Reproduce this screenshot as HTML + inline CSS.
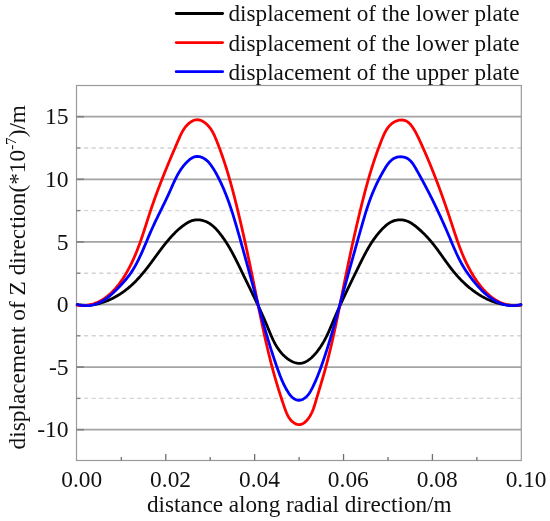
<!DOCTYPE html>
<html><head><meta charset="utf-8"><style>
html,body{margin:0;padding:0;background:#fff;}
svg{display:block;will-change:transform;}
.t{font-family:"Liberation Serif",serif;font-size:23px;fill:#111;}
.sup{font-size:15px;}
</style></head><body>
<svg width="550" height="521" viewBox="0 0 550 521">
<rect width="550" height="521" fill="#fff"/>
<line x1="77" x2="521" y1="116.70" y2="116.70" stroke="#a4a4a4" stroke-width="1.8"/>
<line x1="77" x2="521" y1="179.30" y2="179.30" stroke="#a4a4a4" stroke-width="1.8"/>
<line x1="77" x2="521" y1="241.90" y2="241.90" stroke="#a4a4a4" stroke-width="1.8"/>
<line x1="77" x2="521" y1="304.50" y2="304.50" stroke="#a4a4a4" stroke-width="1.8"/>
<line x1="77" x2="521" y1="367.10" y2="367.10" stroke="#a4a4a4" stroke-width="1.8"/>
<line x1="77" x2="521" y1="429.70" y2="429.70" stroke="#a4a4a4" stroke-width="1.8"/>
<line x1="84" x2="521" y1="148.00" y2="148.00" stroke="#d4d4d4" stroke-width="1.4" stroke-dasharray="4.2 3.4"/>
<line x1="84" x2="521" y1="210.60" y2="210.60" stroke="#d4d4d4" stroke-width="1.4" stroke-dasharray="4.2 3.4"/>
<line x1="84" x2="521" y1="273.20" y2="273.20" stroke="#d4d4d4" stroke-width="1.4" stroke-dasharray="4.2 3.4"/>
<line x1="84" x2="521" y1="335.80" y2="335.80" stroke="#d4d4d4" stroke-width="1.4" stroke-dasharray="4.2 3.4"/>
<line x1="84" x2="521" y1="398.40" y2="398.40" stroke="#d4d4d4" stroke-width="1.4" stroke-dasharray="4.2 3.4"/>
<rect x="76.5" y="85.5" width="444.8" height="375" fill="none" stroke="#9a9a9a" stroke-width="1.2"/>
<line x1="76.5" x2="84" y1="116.70" y2="116.70" stroke="#808080" stroke-width="1.6"/>
<line x1="76.5" x2="84" y1="179.30" y2="179.30" stroke="#808080" stroke-width="1.6"/>
<line x1="76.5" x2="84" y1="241.90" y2="241.90" stroke="#808080" stroke-width="1.6"/>
<line x1="76.5" x2="84" y1="304.50" y2="304.50" stroke="#808080" stroke-width="1.6"/>
<line x1="76.5" x2="84" y1="367.10" y2="367.10" stroke="#808080" stroke-width="1.6"/>
<line x1="76.5" x2="84" y1="429.70" y2="429.70" stroke="#808080" stroke-width="1.6"/>
<line x1="76.5" x2="80.5" y1="148.00" y2="148.00" stroke="#808080" stroke-width="1.4"/>
<line x1="76.5" x2="80.5" y1="210.60" y2="210.60" stroke="#808080" stroke-width="1.4"/>
<line x1="76.5" x2="80.5" y1="273.20" y2="273.20" stroke="#808080" stroke-width="1.4"/>
<line x1="76.5" x2="80.5" y1="335.80" y2="335.80" stroke="#808080" stroke-width="1.4"/>
<line x1="76.5" x2="80.5" y1="398.40" y2="398.40" stroke="#808080" stroke-width="1.4"/>
<line x1="121.34" x2="121.34" y1="460.5" y2="457" stroke="#707070" stroke-width="1.3"/>
<line x1="165.78" x2="165.78" y1="460.5" y2="454" stroke="#707070" stroke-width="1.3"/>
<line x1="210.22" x2="210.22" y1="460.5" y2="457" stroke="#707070" stroke-width="1.3"/>
<line x1="254.66" x2="254.66" y1="460.5" y2="454" stroke="#707070" stroke-width="1.3"/>
<line x1="299.10" x2="299.10" y1="460.5" y2="457" stroke="#707070" stroke-width="1.3"/>
<line x1="343.54" x2="343.54" y1="460.5" y2="454" stroke="#707070" stroke-width="1.3"/>
<line x1="387.98" x2="387.98" y1="460.5" y2="457" stroke="#707070" stroke-width="1.3"/>
<line x1="432.42" x2="432.42" y1="460.5" y2="454" stroke="#707070" stroke-width="1.3"/>
<line x1="476.86" x2="476.86" y1="460.5" y2="457" stroke="#707070" stroke-width="1.3"/>
<text x="68.6" y="124.40" text-anchor="end" class="t" style="font-size:23.6px">15</text>
<text x="68.6" y="187.00" text-anchor="end" class="t" style="font-size:23.6px">10</text>
<text x="68.6" y="249.60" text-anchor="end" class="t" style="font-size:23.6px">5</text>
<text x="68.6" y="312.20" text-anchor="end" class="t" style="font-size:23.6px">0</text>
<text x="68.6" y="374.80" text-anchor="end" class="t" style="font-size:23.6px">-5</text>
<text x="68.6" y="437.40" text-anchor="end" class="t" style="font-size:23.6px">-10</text>
<text x="81.70" y="487" text-anchor="middle" class="t" style="font-size:23.4px">0.00</text>
<text x="170.58" y="487" text-anchor="middle" class="t" style="font-size:23.4px">0.02</text>
<text x="259.46" y="487" text-anchor="middle" class="t" style="font-size:23.4px">0.04</text>
<text x="348.34" y="487" text-anchor="middle" class="t" style="font-size:23.4px">0.06</text>
<text x="437.22" y="487" text-anchor="middle" class="t" style="font-size:23.4px">0.08</text>
<text x="526.10" y="487" text-anchor="middle" class="t" style="font-size:23.4px">0.10</text>
<text x="299.3" y="512.3" text-anchor="middle" class="t" style="font-size:23.2px">distance along radial direction/m</text>
<text transform="translate(25,277.2) rotate(-90)" text-anchor="middle" class="t" style="font-size:23.3px">displacement of Z direction(*10<tspan class="sup" dy="-9">-7</tspan><tspan dy="9">)/m</tspan></text>
<line x1="176.2" x2="222.6" y1="13.50" y2="13.50" stroke="#000" stroke-width="2.8" stroke-linecap="round"/>
<text x="228.5" y="21.40" class="t" style="font-size:23.2px">displacement of the lower plate</text>
<line x1="176.2" x2="222.6" y1="42.60" y2="42.60" stroke="#f00" stroke-width="2.8" stroke-linecap="round"/>
<text x="228.5" y="50.80" class="t" style="font-size:23.2px">displacement of the lower plate</text>
<line x1="176.2" x2="222.6" y1="71.70" y2="71.70" stroke="#00f" stroke-width="2.8" stroke-linecap="round"/>
<text x="228.5" y="80.20" class="t" style="font-size:23.2px">displacement of the upper plate</text>
<path d="M77.45,304.74 L78.16,304.87 L78.88,304.99 L79.59,305.09 L80.32,305.18 L81.04,305.26 L81.77,305.33 L82.50,305.38 L83.23,305.42 L83.96,305.45 L84.69,305.46 L85.43,305.47 L86.17,305.46 L86.91,305.44 L87.65,305.41 L88.39,305.36 L89.13,305.31 L89.88,305.24 L90.62,305.16 L91.36,305.07 L92.11,304.97 L92.85,304.86 L93.60,304.74 L94.34,304.61 L95.09,304.47 L95.83,304.31 L96.58,304.15 L97.32,303.98 L98.06,303.80 L98.80,303.61 L99.54,303.41 L100.28,303.20 L101.02,302.98 L101.75,302.75 L102.48,302.52 L103.22,302.27 L103.94,302.02 L104.67,301.76 L105.40,301.49 L106.12,301.21 L106.84,300.93 L107.56,300.64 L108.27,300.34 L108.98,300.03 L109.69,299.71 L110.39,299.39 L111.09,299.06 L111.79,298.73 L112.48,298.39 L113.17,298.04 L113.85,297.68 L114.53,297.32 L115.21,296.95 L115.88,296.58 L116.55,296.20 L117.21,295.82 L117.86,295.43 L118.51,295.03 L119.16,294.63 L119.80,294.23 L120.44,293.82 L121.06,293.41 L121.69,292.99 L122.31,292.56 L122.92,292.13 L123.53,291.70 L124.13,291.26 L124.73,290.82 L125.32,290.38 L125.90,289.93 L126.49,289.47 L127.06,289.01 L127.64,288.55 L128.21,288.08 L128.77,287.61 L129.33,287.14 L129.88,286.66 L130.43,286.18 L130.98,285.69 L131.52,285.20 L132.06,284.71 L132.60,284.21 L133.13,283.71 L133.65,283.20 L134.18,282.70 L134.69,282.18 L135.21,281.67 L135.72,281.15 L136.23,280.63 L136.74,280.11 L137.24,279.58 L137.74,279.05 L138.23,278.51 L138.73,277.98 L139.22,277.44 L139.70,276.90 L140.19,276.35 L140.67,275.80 L141.15,275.25 L141.62,274.70 L142.10,274.14 L142.57,273.58 L143.04,273.02 L143.51,272.46 L143.97,271.90 L144.43,271.33 L144.89,270.76 L145.35,270.19 L145.81,269.61 L146.27,269.03 L146.72,268.46 L147.17,267.88 L147.62,267.29 L148.07,266.71 L148.52,266.12 L148.97,265.54 L149.41,264.95 L149.86,264.36 L150.30,263.77 L150.74,263.17 L151.19,262.58 L151.63,261.98 L152.07,261.39 L152.51,260.79 L152.95,260.19 L153.39,259.59 L153.83,258.99 L154.27,258.39 L154.71,257.79 L155.15,257.19 L155.58,256.59 L156.02,255.99 L156.46,255.39 L156.90,254.79 L157.35,254.18 L157.79,253.58 L158.23,252.98 L158.67,252.38 L159.12,251.78 L159.56,251.18 L160.01,250.59 L160.46,249.99 L160.90,249.39 L161.35,248.79 L161.81,248.20 L162.26,247.61 L162.71,247.01 L163.17,246.42 L163.63,245.83 L164.09,245.25 L164.55,244.66 L165.01,244.07 L165.48,243.49 L165.95,242.91 L166.42,242.33 L166.90,241.76 L167.37,241.18 L167.85,240.61 L168.33,240.04 L168.82,239.47 L169.30,238.91 L169.80,238.34 L170.29,237.79 L170.79,237.23 L171.29,236.68 L171.79,236.12 L172.30,235.58 L172.81,235.03 L173.32,234.49 L173.84,233.96 L174.37,233.42 L174.89,232.89 L175.42,232.37 L175.96,231.85 L176.50,231.33 L177.05,230.82 L177.60,230.31 L178.15,229.80 L178.71,229.30 L179.28,228.81 L179.85,228.32 L180.43,227.84 L181.01,227.36 L181.60,226.88 L182.20,226.42 L182.80,225.95 L183.41,225.50 L184.02,225.05 L184.64,224.60 L185.27,224.17 L185.91,223.74 L186.55,223.32 L187.20,222.92 L187.85,222.54 L188.51,222.17 L189.18,221.83 L189.86,221.50 L190.54,221.20 L191.23,220.93 L191.93,220.68 L192.64,220.47 L193.35,220.28 L194.06,220.13 L194.79,220.01 L195.52,219.92 L196.25,219.86 L196.98,219.82 L197.72,219.82 L198.46,219.85 L199.19,219.90 L199.93,219.98 L200.66,220.08 L201.39,220.21 L202.12,220.37 L202.85,220.55 L203.56,220.75 L204.28,220.98 L204.98,221.23 L205.68,221.50 L206.36,221.79 L207.04,222.10 L207.71,222.43 L208.36,222.79 L209.00,223.16 L209.63,223.55 L210.25,223.95 L210.86,224.38 L211.45,224.82 L212.04,225.27 L212.61,225.74 L213.18,226.22 L213.73,226.71 L214.28,227.22 L214.81,227.74 L215.34,228.27 L215.86,228.80 L216.37,229.35 L216.88,229.90 L217.38,230.47 L217.87,231.03 L218.36,231.61 L218.84,232.19 L219.31,232.77 L219.78,233.36 L220.24,233.95 L220.71,234.55 L221.16,235.14 L221.61,235.74 L222.06,236.35 L222.50,236.95 L222.94,237.56 L223.37,238.18 L223.80,238.79 L224.23,239.41 L224.65,240.03 L225.07,240.65 L225.48,241.28 L225.89,241.91 L226.30,242.54 L226.71,243.17 L227.11,243.80 L227.50,244.44 L227.90,245.08 L228.29,245.72 L228.67,246.37 L229.06,247.01 L229.44,247.66 L229.82,248.31 L230.19,248.96 L230.56,249.61 L230.93,250.27 L231.30,250.93 L231.67,251.58 L232.03,252.24 L232.39,252.91 L232.75,253.57 L233.10,254.23 L233.45,254.90 L233.81,255.56 L234.16,256.23 L234.50,256.90 L234.85,257.57 L235.19,258.24 L235.54,258.91 L235.88,259.59 L236.22,260.26 L236.55,260.94 L236.89,261.61 L237.23,262.29 L237.56,262.96 L237.90,263.64 L238.23,264.32 L238.56,265.00 L238.89,265.68 L239.22,266.36 L239.55,267.03 L239.88,267.71 L240.21,268.39 L240.53,269.07 L240.86,269.75 L241.19,270.43 L241.52,271.11 L241.84,271.79 L242.17,272.47 L242.50,273.15 L242.82,273.83 L243.15,274.51 L243.48,275.18 L243.81,275.86 L244.13,276.54 L244.46,277.22 L244.79,277.89 L245.12,278.57 L245.45,279.25 L245.78,279.92 L246.10,280.60 L246.43,281.27 L246.76,281.95 L247.09,282.62 L247.42,283.30 L247.75,283.97 L248.07,284.65 L248.40,285.32 L248.73,286.00 L249.06,286.67 L249.39,287.35 L249.71,288.02 L250.04,288.70 L250.37,289.37 L250.70,290.05 L251.02,290.72 L251.35,291.40 L251.68,292.07 L252.00,292.75 L252.33,293.42 L252.65,294.10 L252.98,294.77 L253.30,295.45 L253.63,296.12 L253.95,296.80 L254.28,297.48 L254.60,298.15 L254.92,298.83 L255.25,299.51 L255.57,300.18 L255.89,300.86 L256.21,301.54 L256.53,302.22 L256.85,302.90 L257.17,303.58 L257.49,304.26 L257.81,304.94 L258.13,305.62 L258.44,306.30 L258.76,306.98 L259.08,307.66 L259.39,308.34 L259.70,309.03 L260.02,309.71 L260.33,310.39 L260.64,311.08 L260.96,311.76 L261.27,312.45 L261.58,313.14 L261.89,313.82 L262.19,314.51 L262.50,315.20 L262.81,315.89 L263.11,316.58 L263.42,317.27 L263.72,317.96 L264.02,318.65 L264.33,319.34 L264.63,320.04 L264.93,320.73 L265.23,321.43 L265.53,322.12 L265.82,322.82 L266.12,323.52 L266.41,324.22 L266.71,324.92 L267.00,325.62 L267.29,326.32 L267.58,327.02 L267.87,327.73 L268.16,328.43 L268.45,329.14 L268.74,329.84 L269.03,330.55 L269.32,331.25 L269.61,331.95 L269.90,332.66 L270.19,333.36 L270.49,334.06 L270.79,334.76 L271.09,335.46 L271.39,336.16 L271.70,336.85 L272.01,337.55 L272.32,338.24 L272.64,338.93 L272.97,339.61 L273.29,340.30 L273.63,340.98 L273.97,341.65 L274.31,342.32 L274.67,342.99 L275.02,343.66 L275.39,344.32 L275.76,344.97 L276.14,345.63 L276.53,346.27 L276.93,346.91 L277.33,347.55 L277.75,348.18 L278.17,348.80 L278.60,349.42 L279.05,350.04 L279.50,350.64 L279.96,351.24 L280.44,351.84 L280.92,352.42 L281.42,353.00 L281.93,353.57 L282.45,354.14 L282.98,354.69 L283.53,355.24 L284.09,355.78 L284.66,356.31 L285.25,356.83 L285.85,357.35 L286.47,357.85 L287.09,358.34 L287.73,358.82 L288.38,359.28 L289.04,359.73 L289.71,360.16 L290.38,360.56 L291.07,360.95 L291.76,361.32 L292.45,361.66 L293.15,361.97 L293.85,362.26 L294.56,362.52 L295.26,362.74 L295.97,362.94 L296.68,363.10 L297.39,363.23 L298.09,363.32 L298.80,363.37 L299.49,363.38 L300.19,363.35 L300.88,363.29 L301.57,363.18 L302.25,363.04 L302.92,362.87 L303.60,362.66 L304.26,362.42 L304.92,362.14 L305.58,361.84 L306.23,361.51 L306.88,361.15 L307.51,360.77 L308.15,360.36 L308.77,359.92 L309.39,359.47 L310.00,358.99 L310.61,358.49 L311.21,357.97 L311.80,357.44 L312.38,356.89 L312.95,356.32 L313.52,355.74 L314.08,355.15 L314.63,354.54 L315.18,353.93 L315.71,353.30 L316.24,352.67 L316.75,352.03 L317.26,351.39 L317.76,350.74 L318.25,350.09 L318.73,349.43 L319.20,348.78 L319.65,348.13 L320.10,347.47 L320.55,346.82 L320.98,346.16 L321.40,345.51 L321.82,344.85 L322.22,344.20 L322.62,343.54 L323.01,342.88 L323.40,342.23 L323.77,341.57 L324.15,340.91 L324.51,340.25 L324.87,339.59 L325.22,338.93 L325.56,338.27 L325.90,337.61 L326.24,336.95 L326.56,336.29 L326.89,335.63 L327.21,334.97 L327.52,334.30 L327.84,333.64 L328.14,332.98 L328.45,332.31 L328.75,331.65 L329.04,330.98 L329.34,330.31 L329.63,329.65 L329.92,328.98 L330.21,328.31 L330.49,327.65 L330.78,326.98 L331.06,326.31 L331.34,325.64 L331.63,324.97 L331.91,324.30 L332.19,323.62 L332.47,322.95 L332.75,322.28 L333.03,321.61 L333.31,320.93 L333.59,320.26 L333.88,319.58 L334.16,318.91 L334.45,318.23 L334.74,317.55 L335.03,316.87 L335.32,316.20 L335.61,315.52 L335.91,314.84 L336.20,314.16 L336.50,313.48 L336.80,312.80 L337.10,312.11 L337.40,311.43 L337.70,310.75 L338.00,310.07 L338.31,309.38 L338.61,308.70 L338.92,308.02 L339.22,307.33 L339.53,306.65 L339.84,305.96 L340.15,305.28 L340.47,304.59 L340.78,303.90 L341.09,303.22 L341.41,302.53 L341.72,301.85 L342.04,301.16 L342.36,300.47 L342.67,299.78 L342.99,299.10 L343.31,298.41 L343.63,297.72 L343.96,297.03 L344.28,296.34 L344.60,295.66 L344.92,294.97 L345.25,294.28 L345.57,293.59 L345.90,292.90 L346.23,292.21 L346.55,291.52 L346.88,290.84 L347.21,290.15 L347.54,289.46 L347.86,288.77 L348.19,288.08 L348.52,287.39 L348.85,286.70 L349.18,286.02 L349.52,285.33 L349.85,284.64 L350.18,283.95 L350.51,283.27 L350.84,282.58 L351.17,281.89 L351.51,281.20 L351.84,280.52 L352.17,279.83 L352.51,279.15 L352.84,278.46 L353.17,277.77 L353.51,277.09 L353.84,276.40 L354.18,275.72 L354.51,275.04 L354.84,274.35 L355.18,273.67 L355.51,272.99 L355.84,272.30 L356.18,271.62 L356.51,270.94 L356.85,270.26 L357.18,269.58 L357.51,268.90 L357.84,268.22 L358.18,267.54 L358.51,266.86 L358.84,266.19 L359.17,265.51 L359.51,264.83 L359.84,264.16 L360.17,263.48 L360.50,262.81 L360.84,262.13 L361.17,261.46 L361.50,260.79 L361.84,260.12 L362.17,259.45 L362.51,258.78 L362.85,258.12 L363.19,257.45 L363.53,256.79 L363.87,256.12 L364.21,255.46 L364.56,254.80 L364.90,254.14 L365.25,253.49 L365.61,252.83 L365.96,252.18 L366.31,251.53 L366.67,250.88 L367.03,250.23 L367.40,249.58 L367.76,248.94 L368.13,248.29 L368.50,247.65 L368.88,247.01 L369.26,246.38 L369.64,245.74 L370.02,245.11 L370.41,244.48 L370.81,243.86 L371.20,243.23 L371.60,242.61 L372.01,241.99 L372.42,241.37 L372.83,240.76 L373.25,240.14 L373.67,239.53 L374.10,238.93 L374.53,238.32 L374.97,237.72 L375.41,237.12 L375.86,236.53 L376.31,235.94 L376.77,235.35 L377.23,234.76 L377.70,234.18 L378.17,233.60 L378.66,233.02 L379.14,232.45 L379.64,231.88 L380.14,231.31 L380.64,230.75 L381.15,230.19 L381.67,229.64 L382.20,229.08 L382.73,228.54 L383.27,228.00 L383.82,227.46 L384.37,226.93 L384.93,226.42 L385.50,225.91 L386.08,225.41 L386.67,224.93 L387.26,224.47 L387.86,224.01 L388.48,223.58 L389.10,223.16 L389.73,222.77 L390.36,222.39 L391.01,222.04 L391.67,221.71 L392.34,221.40 L393.02,221.13 L393.71,220.87 L394.40,220.65 L395.11,220.45 L395.82,220.28 L396.55,220.14 L397.27,220.03 L398.00,219.94 L398.74,219.88 L399.47,219.84 L400.21,219.84 L400.95,219.86 L401.69,219.90 L402.43,219.98 L403.16,220.08 L403.90,220.21 L404.62,220.36 L405.34,220.54 L406.06,220.75 L406.77,220.98 L407.47,221.24 L408.15,221.52 L408.83,221.83 L409.50,222.17 L410.16,222.52 L410.81,222.90 L411.45,223.30 L412.09,223.71 L412.71,224.14 L413.33,224.58 L413.94,225.03 L414.55,225.49 L415.16,225.96 L415.75,226.43 L416.35,226.91 L416.94,227.39 L417.53,227.87 L418.11,228.36 L418.68,228.86 L419.26,229.36 L419.83,229.86 L420.39,230.37 L420.95,230.88 L421.51,231.39 L422.06,231.91 L422.61,232.43 L423.15,232.96 L423.69,233.49 L424.23,234.02 L424.76,234.56 L425.29,235.09 L425.81,235.64 L426.33,236.18 L426.85,236.73 L427.36,237.28 L427.87,237.84 L428.37,238.39 L428.87,238.95 L429.36,239.51 L429.86,240.08 L430.34,240.64 L430.83,241.21 L431.31,241.78 L431.78,242.36 L432.25,242.93 L432.72,243.51 L433.18,244.08 L433.64,244.66 L434.10,245.25 L434.56,245.83 L435.01,246.41 L435.46,247.00 L435.90,247.58 L436.35,248.17 L436.79,248.76 L437.23,249.35 L437.66,249.94 L438.10,250.54 L438.53,251.13 L438.96,251.72 L439.40,252.32 L439.82,252.91 L440.25,253.51 L440.68,254.11 L441.11,254.70 L441.53,255.30 L441.96,255.90 L442.38,256.49 L442.81,257.09 L443.23,257.69 L443.66,258.29 L444.08,258.88 L444.50,259.48 L444.93,260.08 L445.36,260.67 L445.78,261.27 L446.21,261.86 L446.64,262.46 L447.07,263.05 L447.50,263.65 L447.94,264.24 L448.37,264.83 L448.81,265.42 L449.25,266.01 L449.69,266.60 L450.13,267.19 L450.58,267.77 L451.02,268.36 L451.47,268.94 L451.93,269.52 L452.38,270.10 L452.84,270.68 L453.31,271.26 L453.77,271.83 L454.25,272.40 L454.72,272.97 L455.20,273.54 L455.68,274.11 L456.17,274.67 L456.66,275.24 L457.15,275.80 L457.65,276.35 L458.15,276.91 L458.66,277.46 L459.16,278.01 L459.68,278.55 L460.20,279.10 L460.72,279.64 L461.24,280.18 L461.77,280.71 L462.30,281.24 L462.84,281.77 L463.38,282.29 L463.92,282.81 L464.47,283.33 L465.02,283.84 L465.58,284.35 L466.13,284.86 L466.70,285.36 L467.26,285.86 L467.83,286.35 L468.40,286.84 L468.98,287.33 L469.56,287.81 L470.14,288.28 L470.73,288.75 L471.32,289.22 L471.91,289.68 L472.51,290.14 L473.11,290.59 L473.72,291.04 L474.32,291.48 L474.93,291.92 L475.55,292.35 L476.16,292.78 L476.78,293.20 L477.41,293.61 L478.04,294.02 L478.67,294.43 L479.30,294.82 L479.94,295.22 L480.58,295.60 L481.22,295.98 L481.87,296.36 L482.52,296.72 L483.17,297.09 L483.82,297.44 L484.48,297.79 L485.14,298.13 L485.81,298.47 L486.48,298.79 L487.15,299.12 L487.82,299.43 L488.50,299.74 L489.18,300.04 L489.86,300.33 L490.55,300.62 L491.24,300.90 L491.93,301.17 L492.62,301.43 L493.32,301.69 L494.02,301.94 L494.72,302.18 L495.43,302.41 L496.14,302.63 L496.85,302.85 L497.56,303.06 L498.28,303.26 L499.00,303.45 L499.72,303.63 L500.44,303.81 L501.17,303.97 L501.90,304.13 L502.63,304.28 L503.37,304.42 L504.10,304.55 L504.84,304.67 L505.59,304.79 L506.33,304.89 L507.08,304.98 L507.83,305.07 L508.58,305.14 L509.34,305.21 L510.09,305.27 L510.85,305.31 L511.62,305.35 L512.38,305.38 L513.15,305.39 L513.92,305.40 L514.69,305.40 L515.46,305.38 L516.24,305.36 L517.02,305.32 L517.80,305.28 L518.58,305.22 L519.36,305.16 L520.15,305.08 L520.94,304.99" fill="none" stroke="#000" stroke-width="2.8" stroke-linejoin="round" stroke-linecap="round"/>
<path d="M77.05,305.19 L78.43,305.34 L79.78,305.44 L81.12,305.49 L82.44,305.50 L83.75,305.47 L85.04,305.39 L86.31,305.27 L87.56,305.11 L88.80,304.91 L90.02,304.68 L91.22,304.40 L92.41,304.09 L93.59,303.74 L94.74,303.35 L95.88,302.93 L97.01,302.47 L98.11,301.99 L99.21,301.47 L100.28,300.91 L101.34,300.33 L102.39,299.72 L103.42,299.07 L104.44,298.40 L105.44,297.71 L106.43,296.98 L107.40,296.23 L108.35,295.45 L109.30,294.65 L110.22,293.83 L111.14,292.99 L112.04,292.12 L112.92,291.23 L113.79,290.32 L114.65,289.39 L115.50,288.45 L116.33,287.48 L117.14,286.50 L117.95,285.51 L118.74,284.49 L119.51,283.47 L120.28,282.43 L121.03,281.38 L121.77,280.31 L122.49,279.24 L123.21,278.15 L123.91,277.06 L124.60,275.96 L125.27,274.85 L125.94,273.73 L126.59,272.61 L127.23,271.48 L127.86,270.35 L128.47,269.21 L129.08,268.07 L129.67,266.93 L130.25,265.79 L130.83,264.65 L131.39,263.51 L131.94,262.36 L132.48,261.22 L133.01,260.08 L133.53,258.93 L134.04,257.79 L134.54,256.64 L135.03,255.49 L135.52,254.35 L135.99,253.20 L136.46,252.05 L136.92,250.91 L137.38,249.76 L137.82,248.61 L138.26,247.46 L138.70,246.31 L139.12,245.16 L139.55,244.01 L139.96,242.86 L140.37,241.71 L140.78,240.56 L141.18,239.41 L141.58,238.26 L141.97,237.11 L142.36,235.96 L142.74,234.81 L143.13,233.66 L143.51,232.51 L143.88,231.36 L144.26,230.20 L144.63,229.05 L145.00,227.90 L145.37,226.75 L145.74,225.60 L146.11,224.45 L146.48,223.30 L146.84,222.14 L147.21,220.99 L147.58,219.84 L147.95,218.69 L148.32,217.54 L148.69,216.39 L149.06,215.24 L149.43,214.09 L149.81,212.94 L150.19,211.79 L150.57,210.64 L150.95,209.49 L151.34,208.34 L151.73,207.19 L152.12,206.04 L152.52,204.89 L152.92,203.75 L153.32,202.60 L153.72,201.45 L154.13,200.30 L154.54,199.16 L154.95,198.01 L155.36,196.86 L155.78,195.71 L156.20,194.57 L156.62,193.42 L157.05,192.27 L157.47,191.13 L157.90,189.98 L158.33,188.83 L158.77,187.69 L159.20,186.54 L159.64,185.39 L160.08,184.25 L160.52,183.10 L160.97,181.96 L161.41,180.81 L161.86,179.66 L162.31,178.52 L162.77,177.37 L163.22,176.22 L163.68,175.08 L164.14,173.93 L164.60,172.79 L165.06,171.64 L165.53,170.49 L165.99,169.35 L166.46,168.20 L166.93,167.05 L167.40,165.91 L167.87,164.76 L168.35,163.61 L168.82,162.46 L169.30,161.32 L169.78,160.17 L170.26,159.02 L170.75,157.87 L171.23,156.72 L171.71,155.58 L172.20,154.43 L172.69,153.28 L173.18,152.13 L173.67,150.98 L174.16,149.83 L174.65,148.68 L175.15,147.53 L175.64,146.38 L176.14,145.23 L176.64,144.08 L177.14,142.93 L177.63,141.78 L178.14,140.63 L178.64,139.47 L179.14,138.32 L179.65,137.17 L180.16,136.02 L180.70,134.88 L181.25,133.75 L181.82,132.62 L182.43,131.51 L183.07,130.41 L183.75,129.33 L184.47,128.27 L185.25,127.23 L186.08,126.21 L186.96,125.23 L187.89,124.29 L188.86,123.41 L189.87,122.60 L190.91,121.86 L191.98,121.22 L193.08,120.68 L194.19,120.25 L195.33,119.95 L196.47,119.78 L197.62,119.76 L198.78,119.88 L199.93,120.15 L201.07,120.54 L202.20,121.05 L203.31,121.67 L204.39,122.38 L205.45,123.18 L206.47,124.05 L207.45,124.98 L208.38,125.96 L209.26,126.98 L210.09,128.02 L210.86,129.09 L211.57,130.18 L212.25,131.29 L212.88,132.41 L213.47,133.55 L214.03,134.70 L214.57,135.86 L215.08,137.03 L215.58,138.20 L216.06,139.38 L216.54,140.56 L217.01,141.74 L217.48,142.93 L217.94,144.11 L218.39,145.30 L218.85,146.48 L219.29,147.67 L219.74,148.86 L220.18,150.05 L220.61,151.24 L221.04,152.43 L221.46,153.62 L221.88,154.82 L222.30,156.01 L222.71,157.21 L223.12,158.40 L223.52,159.60 L223.92,160.80 L224.32,161.99 L224.71,163.19 L225.10,164.39 L225.49,165.59 L225.87,166.79 L226.25,168.00 L226.62,169.20 L226.99,170.40 L227.36,171.61 L227.72,172.81 L228.08,174.01 L228.44,175.22 L228.79,176.43 L229.14,177.63 L229.49,178.84 L229.84,180.05 L230.18,181.25 L230.52,182.46 L230.86,183.67 L231.19,184.88 L231.52,186.09 L231.85,187.29 L232.18,188.50 L232.50,189.71 L232.82,190.92 L233.14,192.13 L233.46,193.34 L233.78,194.55 L234.09,195.76 L234.40,196.97 L234.71,198.18 L235.02,199.39 L235.32,200.60 L235.63,201.81 L235.93,203.02 L236.23,204.23 L236.53,205.44 L236.82,206.65 L237.12,207.86 L237.42,209.07 L237.71,210.28 L238.00,211.48 L238.29,212.69 L238.58,213.90 L238.87,215.11 L239.16,216.32 L239.44,217.52 L239.73,218.73 L240.01,219.94 L240.30,221.15 L240.58,222.35 L240.86,223.56 L241.14,224.77 L241.42,225.97 L241.70,227.18 L241.97,228.39 L242.25,229.60 L242.53,230.81 L242.80,232.01 L243.07,233.22 L243.35,234.43 L243.62,235.64 L243.89,236.85 L244.16,238.06 L244.43,239.27 L244.70,240.48 L244.96,241.69 L245.23,242.90 L245.50,244.11 L245.76,245.32 L246.03,246.53 L246.29,247.75 L246.55,248.96 L246.82,250.17 L247.08,251.39 L247.34,252.60 L247.60,253.82 L247.86,255.03 L248.12,256.25 L248.38,257.47 L248.64,258.69 L248.90,259.91 L249.15,261.13 L249.41,262.35 L249.67,263.57 L249.92,264.79 L250.18,266.02 L250.43,267.24 L250.69,268.47 L250.94,269.69 L251.20,270.92 L251.45,272.15 L251.70,273.38 L251.96,274.61 L252.21,275.84 L252.46,277.08 L252.72,278.31 L252.97,279.55 L253.22,280.78 L253.47,282.02 L253.72,283.26 L253.97,284.50 L254.23,285.74 L254.48,286.99 L254.73,288.23 L254.98,289.47 L255.23,290.72 L255.48,291.97 L255.73,293.21 L255.99,294.46 L256.24,295.71 L256.49,296.96 L256.74,298.21 L256.99,299.46 L257.25,300.72 L257.50,301.97 L257.75,303.22 L258.01,304.48 L258.26,305.73 L258.52,306.98 L258.77,308.24 L259.03,309.49 L259.29,310.75 L259.54,312.01 L259.80,313.26 L260.06,314.52 L260.32,315.77 L260.58,317.03 L260.84,318.28 L261.10,319.54 L261.36,320.79 L261.63,322.05 L261.89,323.30 L262.16,324.56 L262.43,325.81 L262.69,327.07 L262.96,328.32 L263.23,329.57 L263.50,330.83 L263.78,332.08 L264.05,333.33 L264.32,334.58 L264.60,335.83 L264.88,337.08 L265.16,338.33 L265.44,339.58 L265.72,340.82 L266.00,342.07 L266.29,343.31 L266.57,344.56 L266.86,345.80 L267.15,347.04 L267.44,348.28 L267.73,349.52 L268.03,350.76 L268.33,352.00 L268.62,353.23 L268.92,354.47 L269.23,355.70 L269.53,356.93 L269.84,358.16 L270.14,359.39 L270.45,360.61 L270.77,361.84 L271.08,363.06 L271.40,364.28 L271.71,365.50 L272.04,366.72 L272.36,367.93 L272.68,369.14 L273.01,370.36 L273.34,371.56 L273.67,372.77 L274.01,373.98 L274.34,375.18 L274.68,376.38 L275.03,377.58 L275.37,378.78 L275.72,379.98 L276.07,381.18 L276.42,382.37 L276.78,383.57 L277.14,384.77 L277.50,385.97 L277.86,387.17 L278.23,388.36 L278.60,389.56 L278.98,390.77 L279.36,391.97 L279.74,393.17 L280.12,394.38 L280.51,395.59 L280.91,396.80 L281.30,398.01 L281.70,399.23 L282.10,400.45 L282.51,401.67 L282.92,402.90 L283.34,404.13 L283.76,405.36 L284.18,406.60 L284.61,407.84 L285.04,409.08 L285.49,410.33 L285.96,411.56 L286.45,412.78 L286.98,413.97 L287.54,415.15 L288.15,416.29 L288.81,417.40 L289.52,418.47 L290.30,419.50 L291.14,420.47 L292.06,421.38 L293.04,422.23 L294.07,422.97 L295.14,423.61 L296.23,424.12 L297.35,424.47 L298.47,424.67 L299.58,424.67 L300.68,424.50 L301.75,424.15 L302.81,423.65 L303.84,423.02 L304.83,422.27 L305.79,421.41 L306.71,420.47 L307.59,419.46 L308.41,418.40 L309.18,417.31 L309.90,416.20 L310.56,415.06 L311.18,413.91 L311.75,412.75 L312.28,411.57 L312.78,410.38 L313.25,409.18 L313.68,407.97 L314.10,406.75 L314.50,405.53 L314.88,404.31 L315.25,403.08 L315.61,401.86 L315.97,400.63 L316.34,399.41 L316.70,398.19 L317.06,396.97 L317.43,395.75 L317.79,394.53 L318.16,393.32 L318.52,392.11 L318.89,390.90 L319.25,389.68 L319.62,388.48 L319.98,387.27 L320.34,386.06 L320.71,384.85 L321.07,383.64 L321.43,382.44 L321.78,381.23 L322.14,380.02 L322.50,378.81 L322.85,377.60 L323.20,376.39 L323.55,375.18 L323.90,373.97 L324.24,372.76 L324.59,371.55 L324.92,370.33 L325.26,369.11 L325.59,367.90 L325.93,366.68 L326.25,365.45 L326.58,364.23 L326.90,363.01 L327.22,361.78 L327.54,360.56 L327.86,359.33 L328.17,358.10 L328.48,356.87 L328.79,355.64 L329.10,354.40 L329.40,353.17 L329.70,351.93 L330.00,350.70 L330.30,349.46 L330.60,348.22 L330.89,346.98 L331.18,345.74 L331.47,344.50 L331.76,343.26 L332.05,342.02 L332.33,340.77 L332.62,339.53 L332.90,338.29 L333.18,337.04 L333.46,335.79 L333.73,334.55 L334.01,333.30 L334.28,332.05 L334.55,330.80 L334.82,329.56 L335.09,328.31 L335.36,327.06 L335.63,325.81 L335.89,324.56 L336.16,323.31 L336.42,322.06 L336.68,320.81 L336.94,319.55 L337.20,318.30 L337.46,317.05 L337.72,315.80 L337.98,314.55 L338.23,313.30 L338.49,312.05 L338.74,310.79 L339.00,309.54 L339.25,308.29 L339.50,307.04 L339.76,305.79 L340.01,304.54 L340.26,303.29 L340.51,302.04 L340.76,300.79 L341.01,299.54 L341.26,298.29 L341.51,297.04 L341.76,295.79 L342.01,294.54 L342.26,293.30 L342.51,292.05 L342.76,290.80 L343.01,289.56 L343.26,288.31 L343.51,287.07 L343.76,285.83 L344.01,284.58 L344.26,283.34 L344.51,282.10 L344.76,280.86 L345.01,279.62 L345.26,278.38 L345.51,277.15 L345.76,275.91 L346.02,274.68 L346.27,273.44 L346.52,272.21 L346.78,270.97 L347.03,269.74 L347.28,268.51 L347.54,267.28 L347.80,266.05 L348.05,264.82 L348.31,263.59 L348.57,262.37 L348.82,261.14 L349.08,259.91 L349.34,258.69 L349.60,257.46 L349.86,256.24 L350.12,255.02 L350.38,253.79 L350.64,252.57 L350.91,251.35 L351.17,250.13 L351.43,248.91 L351.70,247.69 L351.96,246.48 L352.23,245.26 L352.50,244.04 L352.76,242.83 L353.03,241.61 L353.30,240.40 L353.57,239.18 L353.84,237.97 L354.11,236.75 L354.39,235.54 L354.66,234.33 L354.93,233.12 L355.21,231.91 L355.48,230.70 L355.76,229.49 L356.04,228.28 L356.32,227.07 L356.59,225.86 L356.87,224.65 L357.16,223.45 L357.44,222.24 L357.72,221.04 L358.00,219.83 L358.29,218.62 L358.58,217.42 L358.86,216.22 L359.15,215.01 L359.44,213.81 L359.73,212.61 L360.02,211.40 L360.31,210.20 L360.61,209.00 L360.90,207.80 L361.20,206.60 L361.49,205.40 L361.79,204.20 L362.09,203.00 L362.39,201.80 L362.69,200.60 L363.00,199.40 L363.30,198.20 L363.61,197.00 L363.92,195.80 L364.23,194.60 L364.54,193.40 L364.86,192.20 L365.17,191.01 L365.49,189.81 L365.81,188.61 L366.14,187.41 L366.46,186.21 L366.79,185.01 L367.12,183.81 L367.46,182.61 L367.79,181.41 L368.13,180.21 L368.48,179.01 L368.82,177.81 L369.17,176.61 L369.53,175.41 L369.88,174.21 L370.24,173.01 L370.60,171.81 L370.97,170.60 L371.34,169.40 L371.71,168.20 L372.09,166.99 L372.47,165.79 L372.86,164.58 L373.25,163.38 L373.65,162.17 L374.04,160.96 L374.45,159.75 L374.86,158.54 L375.27,157.33 L375.68,156.12 L376.11,154.91 L376.53,153.70 L376.96,152.48 L377.40,151.27 L377.84,150.05 L378.29,148.83 L378.74,147.62 L379.20,146.40 L379.66,145.18 L380.13,143.96 L380.60,142.73 L381.08,141.51 L381.57,140.28 L382.06,139.06 L382.56,137.83 L383.07,136.61 L383.59,135.40 L384.14,134.20 L384.70,133.02 L385.30,131.87 L385.92,130.73 L386.57,129.63 L387.26,128.57 L387.99,127.54 L388.77,126.56 L389.60,125.63 L390.47,124.75 L391.40,123.93 L392.39,123.16 L393.44,122.47 L394.54,121.84 L395.68,121.30 L396.85,120.84 L398.05,120.47 L399.26,120.21 L400.47,120.04 L401.67,119.99 L402.85,120.06 L404.01,120.25 L405.14,120.57 L406.21,121.03 L407.24,121.62 L408.23,122.33 L409.17,123.14 L410.07,124.03 L410.94,125.01 L411.76,126.05 L412.55,127.15 L413.30,128.28 L414.02,129.44 L414.71,130.61 L415.37,131.79 L416.00,132.95 L416.61,134.11 L417.19,135.26 L417.76,136.40 L418.31,137.53 L418.85,138.66 L419.37,139.79 L419.90,140.92 L420.41,142.05 L420.93,143.17 L421.44,144.30 L421.95,145.43 L422.46,146.56 L422.97,147.69 L423.47,148.82 L423.97,149.96 L424.47,151.09 L424.96,152.22 L425.45,153.35 L425.94,154.49 L426.43,155.62 L426.91,156.76 L427.40,157.89 L427.87,159.03 L428.35,160.17 L428.83,161.30 L429.30,162.44 L429.77,163.58 L430.24,164.72 L430.70,165.86 L431.17,167.00 L431.63,168.14 L432.09,169.28 L432.54,170.42 L433.00,171.56 L433.45,172.71 L433.90,173.85 L434.35,174.99 L434.79,176.14 L435.24,177.28 L435.68,178.43 L436.12,179.57 L436.56,180.72 L436.99,181.86 L437.43,183.01 L437.86,184.15 L438.29,185.30 L438.72,186.45 L439.14,187.60 L439.57,188.75 L439.99,189.89 L440.41,191.04 L440.83,192.19 L441.25,193.34 L441.66,194.49 L442.08,195.64 L442.49,196.79 L442.90,197.94 L443.31,199.10 L443.71,200.25 L444.12,201.40 L444.52,202.55 L444.93,203.70 L445.33,204.86 L445.72,206.01 L446.12,207.16 L446.52,208.32 L446.91,209.47 L447.31,210.63 L447.70,211.78 L448.09,212.94 L448.48,214.09 L448.87,215.25 L449.25,216.40 L449.64,217.56 L450.02,218.71 L450.40,219.87 L450.78,221.03 L451.16,222.18 L451.54,223.34 L451.92,224.50 L452.30,225.65 L452.68,226.81 L453.05,227.97 L453.43,229.12 L453.81,230.28 L454.19,231.44 L454.58,232.59 L454.96,233.75 L455.35,234.90 L455.73,236.06 L456.13,237.21 L456.52,238.37 L456.92,239.52 L457.32,240.67 L457.73,241.82 L458.14,242.98 L458.55,244.13 L458.97,245.28 L459.40,246.42 L459.83,247.57 L460.26,248.72 L460.71,249.86 L461.15,251.01 L461.61,252.15 L462.07,253.29 L462.54,254.43 L463.02,255.57 L463.51,256.71 L464.01,257.84 L464.51,258.98 L465.02,260.11 L465.54,261.24 L466.08,262.37 L466.62,263.50 L467.17,264.63 L467.73,265.75 L468.31,266.87 L468.89,267.99 L469.49,269.11 L470.10,270.23 L470.72,271.34 L471.35,272.45 L472.00,273.56 L472.66,274.67 L473.33,275.77 L474.02,276.87 L474.72,277.96 L475.43,279.05 L476.16,280.13 L476.90,281.20 L477.65,282.26 L478.42,283.31 L479.20,284.35 L479.99,285.37 L480.80,286.39 L481.62,287.38 L482.46,288.36 L483.30,289.33 L484.17,290.28 L485.05,291.21 L485.94,292.11 L486.84,293.00 L487.76,293.87 L488.70,294.71 L489.65,295.53 L490.61,296.33 L491.59,297.10 L492.58,297.84 L493.58,298.55 L494.61,299.24 L495.64,299.89 L496.69,300.52 L497.76,301.11 L498.84,301.67 L499.93,302.20 L501.04,302.69 L502.17,303.14 L503.31,303.56 L504.47,303.94 L505.64,304.28 L506.82,304.58 L508.02,304.84 L509.24,305.06 L510.47,305.24 L511.72,305.37 L512.99,305.45 L514.26,305.49 L515.56,305.48 L516.87,305.43 L518.20,305.32 L519.54,305.17 L520.90,304.96" fill="none" stroke="#ff0000" stroke-width="2.8" stroke-linejoin="round" stroke-linecap="round"/>
<path d="M77.30,304.42 L78.36,304.74 L79.43,305.00 L80.50,305.23 L81.57,305.41 L82.65,305.55 L83.72,305.64 L84.80,305.70 L85.87,305.71 L86.94,305.69 L88.01,305.63 L89.08,305.53 L90.14,305.39 L91.19,305.22 L92.24,305.01 L93.27,304.77 L94.30,304.49 L95.32,304.18 L96.33,303.84 L97.32,303.46 L98.31,303.06 L99.28,302.63 L100.24,302.17 L101.18,301.68 L102.12,301.17 L103.04,300.63 L103.95,300.07 L104.85,299.49 L105.74,298.89 L106.62,298.27 L107.49,297.63 L108.35,296.97 L109.20,296.30 L110.03,295.62 L110.86,294.92 L111.67,294.21 L112.48,293.50 L113.28,292.77 L114.06,292.03 L114.84,291.29 L115.61,290.54 L116.37,289.79 L117.12,289.04 L117.86,288.28 L118.59,287.53 L119.31,286.77 L120.03,286.02 L120.73,285.27 L121.43,284.52 L122.12,283.77 L122.80,283.03 L123.47,282.28 L124.14,281.53 L124.79,280.77 L125.44,280.02 L126.08,279.26 L126.71,278.49 L127.33,277.72 L127.94,276.94 L128.54,276.16 L129.14,275.37 L129.73,274.57 L130.30,273.76 L130.87,272.94 L131.43,272.11 L131.98,271.26 L132.53,270.41 L133.06,269.56 L133.59,268.69 L134.11,267.81 L134.63,266.92 L135.14,266.03 L135.64,265.13 L136.13,264.22 L136.62,263.31 L137.10,262.38 L137.58,261.45 L138.06,260.52 L138.52,259.58 L138.99,258.63 L139.44,257.68 L139.90,256.72 L140.35,255.75 L140.80,254.79 L141.24,253.81 L141.68,252.84 L142.12,251.86 L142.55,250.88 L142.98,249.89 L143.41,248.90 L143.84,247.91 L144.27,246.91 L144.69,245.92 L145.11,244.92 L145.54,243.92 L145.96,242.92 L146.38,241.92 L146.80,240.92 L147.22,239.92 L147.64,238.91 L148.07,237.91 L148.49,236.91 L148.91,235.91 L149.34,234.91 L149.77,233.91 L150.19,232.92 L150.63,231.93 L151.06,230.93 L151.49,229.95 L151.93,228.96 L152.38,227.98 L152.82,227.00 L153.27,226.02 L153.72,225.05 L154.17,224.07 L154.62,223.11 L155.08,222.14 L155.54,221.17 L156.00,220.21 L156.46,219.25 L156.92,218.29 L157.39,217.34 L157.85,216.38 L158.32,215.43 L158.78,214.47 L159.25,213.52 L159.72,212.57 L160.19,211.62 L160.65,210.68 L161.12,209.73 L161.59,208.78 L162.05,207.83 L162.52,206.89 L162.98,205.94 L163.45,204.99 L163.91,204.05 L164.37,203.10 L164.83,202.15 L165.29,201.21 L165.74,200.26 L166.20,199.31 L166.65,198.36 L167.10,197.41 L167.55,196.45 L167.99,195.50 L168.43,194.55 L168.87,193.59 L169.30,192.63 L169.74,191.67 L170.16,190.71 L170.59,189.75 L171.01,188.79 L171.44,187.82 L171.86,186.86 L172.29,185.89 L172.71,184.93 L173.14,183.97 L173.57,183.01 L174.01,182.05 L174.45,181.10 L174.90,180.15 L175.36,179.20 L175.82,178.26 L176.29,177.32 L176.78,176.38 L177.27,175.45 L177.77,174.53 L178.29,173.61 L178.82,172.70 L179.36,171.80 L179.92,170.90 L180.49,170.02 L181.08,169.14 L181.69,168.27 L182.32,167.41 L182.96,166.56 L183.63,165.72 L184.32,164.89 L185.02,164.07 L185.75,163.26 L186.51,162.47 L187.29,161.69 L188.09,160.92 L188.92,160.18 L189.77,159.49 L190.65,158.83 L191.55,158.24 L192.47,157.71 L193.42,157.26 L194.39,156.90 L195.39,156.63 L196.41,156.48 L197.45,156.43 L198.52,156.51 L199.58,156.69 L200.64,156.97 L201.68,157.33 L202.70,157.77 L203.68,158.28 L204.63,158.85 L205.54,159.47 L206.40,160.13 L207.20,160.83 L207.95,161.55 L208.66,162.31 L209.33,163.10 L209.98,163.90 L210.61,164.73 L211.23,165.57 L211.84,166.42 L212.43,167.30 L213.01,168.18 L213.59,169.08 L214.15,169.98 L214.70,170.90 L215.24,171.83 L215.77,172.76 L216.30,173.70 L216.81,174.65 L217.32,175.59 L217.81,176.54 L218.30,177.50 L218.78,178.45 L219.25,179.40 L219.72,180.36 L220.18,181.31 L220.63,182.25 L221.07,183.20 L221.51,184.15 L221.94,185.10 L222.37,186.04 L222.79,186.99 L223.20,187.93 L223.61,188.88 L224.01,189.82 L224.41,190.76 L224.80,191.71 L225.18,192.65 L225.56,193.59 L225.94,194.54 L226.31,195.48 L226.67,196.43 L227.04,197.37 L227.39,198.32 L227.75,199.27 L228.10,200.22 L228.44,201.17 L228.78,202.12 L229.12,203.07 L229.45,204.02 L229.79,204.98 L230.11,205.94 L230.44,206.90 L230.76,207.86 L231.08,208.82 L231.40,209.78 L231.72,210.75 L232.03,211.72 L232.34,212.69 L232.65,213.67 L232.96,214.64 L233.26,215.62 L233.57,216.60 L233.87,217.58 L234.17,218.57 L234.47,219.56 L234.77,220.54 L235.06,221.54 L235.36,222.53 L235.65,223.52 L235.95,224.52 L236.24,225.52 L236.53,226.52 L236.82,227.52 L237.11,228.53 L237.40,229.53 L237.69,230.54 L237.98,231.55 L238.26,232.56 L238.55,233.57 L238.84,234.59 L239.12,235.60 L239.41,236.62 L239.70,237.64 L239.99,238.66 L240.27,239.68 L240.56,240.71 L240.85,241.73 L241.13,242.76 L241.42,243.79 L241.71,244.82 L241.99,245.85 L242.28,246.88 L242.57,247.91 L242.86,248.94 L243.14,249.98 L243.43,251.01 L243.72,252.05 L244.00,253.09 L244.29,254.13 L244.58,255.17 L244.86,256.21 L245.15,257.25 L245.44,258.29 L245.73,259.33 L246.01,260.38 L246.30,261.42 L246.59,262.47 L246.87,263.51 L247.16,264.56 L247.45,265.60 L247.73,266.65 L248.02,267.70 L248.31,268.75 L248.59,269.79 L248.88,270.84 L249.17,271.89 L249.45,272.94 L249.74,273.99 L250.03,275.04 L250.31,276.09 L250.60,277.13 L250.89,278.18 L251.17,279.23 L251.46,280.28 L251.74,281.33 L252.03,282.38 L252.32,283.43 L252.60,284.48 L252.89,285.53 L253.17,286.57 L253.46,287.62 L253.75,288.67 L254.03,289.71 L254.32,290.76 L254.60,291.81 L254.89,292.85 L255.17,293.90 L255.46,294.94 L255.74,295.98 L256.03,297.03 L256.31,298.07 L256.60,299.11 L256.88,300.15 L257.17,301.19 L257.45,302.23 L257.74,303.27 L258.02,304.30 L258.31,305.34 L258.59,306.38 L258.88,307.41 L259.16,308.44 L259.44,309.47 L259.73,310.50 L260.01,311.53 L260.30,312.56 L260.58,313.59 L260.87,314.62 L261.15,315.64 L261.44,316.67 L261.72,317.69 L262.01,318.71 L262.29,319.73 L262.58,320.75 L262.87,321.77 L263.15,322.79 L263.44,323.81 L263.73,324.82 L264.02,325.84 L264.31,326.85 L264.60,327.86 L264.89,328.87 L265.18,329.88 L265.47,330.89 L265.76,331.90 L266.05,332.90 L266.35,333.91 L266.64,334.91 L266.94,335.91 L267.24,336.92 L267.53,337.92 L267.83,338.91 L268.13,339.91 L268.43,340.91 L268.73,341.90 L269.03,342.90 L269.34,343.89 L269.64,344.88 L269.95,345.87 L270.25,346.86 L270.56,347.85 L270.87,348.83 L271.18,349.82 L271.49,350.80 L271.81,351.78 L272.12,352.77 L272.44,353.75 L272.75,354.72 L273.07,355.70 L273.39,356.68 L273.71,357.65 L274.04,358.62 L274.36,359.59 L274.69,360.56 L275.02,361.53 L275.35,362.50 L275.68,363.47 L276.01,364.43 L276.35,365.39 L276.68,366.36 L277.02,367.32 L277.36,368.28 L277.70,369.23 L278.05,370.19 L278.39,371.14 L278.74,372.10 L279.09,373.05 L279.45,374.00 L279.81,374.95 L280.17,375.89 L280.54,376.84 L280.92,377.78 L281.30,378.73 L281.69,379.67 L282.10,380.61 L282.51,381.55 L282.93,382.49 L283.36,383.43 L283.80,384.36 L284.26,385.30 L284.73,386.23 L285.22,387.16 L285.72,388.10 L286.24,389.03 L286.77,389.95 L287.32,390.88 L287.89,391.81 L288.48,392.74 L289.09,393.65 L289.74,394.56 L290.43,395.43 L291.17,396.26 L291.96,397.05 L292.81,397.78 L293.70,398.44 L294.62,399.01 L295.57,399.49 L296.54,399.86 L297.53,400.12 L298.53,400.25 L299.53,400.24 L300.52,400.09 L301.50,399.82 L302.47,399.43 L303.41,398.94 L304.33,398.36 L305.22,397.70 L306.07,396.97 L306.88,396.19 L307.64,395.37 L308.34,394.51 L309.00,393.63 L309.62,392.72 L310.20,391.80 L310.75,390.86 L311.27,389.91 L311.78,388.96 L312.26,388.01 L312.74,387.05 L313.21,386.10 L313.66,385.15 L314.11,384.20 L314.54,383.25 L314.97,382.30 L315.39,381.35 L315.80,380.40 L316.20,379.46 L316.60,378.51 L316.99,377.57 L317.38,376.63 L317.76,375.69 L318.13,374.75 L318.50,373.81 L318.86,372.87 L319.22,371.92 L319.58,370.98 L319.93,370.04 L320.28,369.10 L320.63,368.15 L320.97,367.21 L321.32,366.26 L321.66,365.31 L322.00,364.35 L322.33,363.40 L322.67,362.44 L323.00,361.48 L323.33,360.52 L323.66,359.56 L323.99,358.59 L324.31,357.63 L324.64,356.66 L324.96,355.68 L325.28,354.71 L325.60,353.74 L325.92,352.76 L326.23,351.78 L326.55,350.80 L326.86,349.82 L327.17,348.84 L327.48,347.85 L327.79,346.86 L328.10,345.87 L328.41,344.88 L328.71,343.89 L329.02,342.90 L329.32,341.90 L329.62,340.90 L329.92,339.91 L330.22,338.91 L330.52,337.90 L330.82,336.90 L331.12,335.90 L331.41,334.89 L331.71,333.88 L332.00,332.87 L332.29,331.86 L332.59,330.85 L332.88,329.84 L333.17,328.83 L333.46,327.81 L333.75,326.80 L334.04,325.78 L334.33,324.76 L334.61,323.74 L334.90,322.72 L335.19,321.70 L335.47,320.67 L335.76,319.65 L336.04,318.62 L336.33,317.60 L336.61,316.57 L336.90,315.54 L337.18,314.51 L337.46,313.48 L337.75,312.45 L338.03,311.42 L338.31,310.39 L338.60,309.36 L338.88,308.32 L339.16,307.29 L339.45,306.25 L339.73,305.22 L340.01,304.18 L340.29,303.14 L340.58,302.10 L340.86,301.07 L341.14,300.03 L341.43,298.99 L341.71,297.95 L341.99,296.90 L342.28,295.86 L342.56,294.82 L342.85,293.78 L343.13,292.74 L343.42,291.69 L343.70,290.65 L343.99,289.61 L344.27,288.56 L344.56,287.52 L344.85,286.47 L345.13,285.43 L345.42,284.39 L345.71,283.34 L345.99,282.30 L346.28,281.25 L346.57,280.21 L346.86,279.16 L347.14,278.12 L347.43,277.07 L347.72,276.03 L348.01,274.98 L348.30,273.94 L348.59,272.89 L348.87,271.85 L349.16,270.80 L349.45,269.76 L349.74,268.72 L350.03,267.67 L350.32,266.63 L350.61,265.59 L350.90,264.54 L351.19,263.50 L351.48,262.46 L351.77,261.42 L352.06,260.38 L352.35,259.34 L352.63,258.30 L352.92,257.26 L353.21,256.23 L353.50,255.19 L353.79,254.15 L354.08,253.12 L354.37,252.08 L354.66,251.05 L354.95,250.01 L355.24,248.98 L355.53,247.95 L355.82,246.92 L356.11,245.89 L356.39,244.86 L356.68,243.83 L356.97,242.81 L357.26,241.78 L357.55,240.76 L357.84,239.73 L358.13,238.71 L358.41,237.69 L358.70,236.67 L358.99,235.65 L359.28,234.63 L359.56,233.62 L359.85,232.60 L360.14,231.59 L360.42,230.58 L360.71,229.57 L361.00,228.56 L361.28,227.55 L361.57,226.54 L361.86,225.54 L362.14,224.54 L362.43,223.54 L362.72,222.54 L363.01,221.54 L363.30,220.54 L363.59,219.55 L363.88,218.56 L364.17,217.57 L364.47,216.58 L364.76,215.59 L365.06,214.61 L365.36,213.62 L365.66,212.64 L365.97,211.67 L366.28,210.69 L366.59,209.72 L366.90,208.75 L367.21,207.78 L367.53,206.81 L367.85,205.85 L368.18,204.89 L368.51,203.93 L368.84,202.98 L369.17,202.02 L369.51,201.07 L369.86,200.12 L370.20,199.18 L370.55,198.24 L370.91,197.30 L371.27,196.36 L371.64,195.43 L372.01,194.50 L372.38,193.56 L372.76,192.64 L373.15,191.71 L373.54,190.78 L373.94,189.86 L374.34,188.93 L374.75,188.01 L375.16,187.09 L375.58,186.16 L376.01,185.24 L376.44,184.32 L376.88,183.40 L377.33,182.48 L377.78,181.55 L378.25,180.63 L378.71,179.71 L379.19,178.78 L379.67,177.85 L380.16,176.93 L380.66,176.00 L381.17,175.06 L381.68,174.13 L382.21,173.20 L382.74,172.26 L383.28,171.32 L383.83,170.37 L384.38,169.43 L384.95,168.48 L385.53,167.54 L386.12,166.60 L386.73,165.67 L387.36,164.77 L388.01,163.88 L388.68,163.03 L389.38,162.21 L390.10,161.42 L390.86,160.68 L391.65,159.99 L392.48,159.36 L393.34,158.78 L394.25,158.27 L395.20,157.83 L396.19,157.46 L397.22,157.17 L398.29,156.96 L399.38,156.83 L400.48,156.77 L401.58,156.80 L402.67,156.90 L403.74,157.08 L404.78,157.34 L405.78,157.68 L406.73,158.10 L407.63,158.59 L408.48,159.15 L409.29,159.78 L410.06,160.46 L410.79,161.20 L411.48,161.99 L412.15,162.81 L412.79,163.67 L413.40,164.57 L413.99,165.48 L414.57,166.42 L415.13,167.37 L415.69,168.33 L416.24,169.29 L416.78,170.25 L417.32,171.21 L417.85,172.16 L418.39,173.12 L418.92,174.07 L419.44,175.02 L419.97,175.97 L420.49,176.91 L421.01,177.86 L421.52,178.80 L422.03,179.74 L422.54,180.68 L423.05,181.62 L423.55,182.56 L424.05,183.49 L424.55,184.43 L425.04,185.36 L425.54,186.29 L426.03,187.23 L426.52,188.16 L427.00,189.09 L427.48,190.02 L427.97,190.95 L428.44,191.88 L428.92,192.81 L429.39,193.74 L429.87,194.67 L430.34,195.59 L430.80,196.52 L431.27,197.45 L431.73,198.38 L432.20,199.31 L432.66,200.24 L433.12,201.17 L433.57,202.10 L434.03,203.04 L434.48,203.97 L434.93,204.90 L435.38,205.84 L435.83,206.77 L436.28,207.71 L436.73,208.65 L437.17,209.59 L437.62,210.53 L438.06,211.47 L438.50,212.41 L438.94,213.36 L439.38,214.31 L439.82,215.26 L440.26,216.21 L440.69,217.16 L441.13,218.12 L441.56,219.07 L442.00,220.03 L442.43,221.00 L442.86,221.96 L443.29,222.93 L443.72,223.90 L444.16,224.87 L444.59,225.85 L445.02,226.82 L445.45,227.81 L445.87,228.79 L446.30,229.78 L446.73,230.77 L447.16,231.76 L447.59,232.76 L448.02,233.76 L448.45,234.77 L448.87,235.78 L449.30,236.79 L449.73,237.80 L450.16,238.82 L450.59,239.84 L451.02,240.87 L451.45,241.89 L451.88,242.92 L452.31,243.94 L452.75,244.96 L453.18,245.98 L453.62,247.00 L454.06,248.02 L454.50,249.03 L454.94,250.04 L455.39,251.04 L455.83,252.04 L456.28,253.03 L456.74,254.01 L457.19,254.98 L457.65,255.95 L458.11,256.91 L458.57,257.86 L459.04,258.80 L459.51,259.72 L459.98,260.64 L460.46,261.55 L460.95,262.44 L461.43,263.33 L461.92,264.20 L462.42,265.07 L462.92,265.93 L463.43,266.78 L463.94,267.63 L464.46,268.47 L464.99,269.30 L465.52,270.13 L466.06,270.95 L466.61,271.77 L467.16,272.58 L467.72,273.39 L468.29,274.20 L468.87,275.00 L469.45,275.80 L470.04,276.61 L470.65,277.41 L471.26,278.21 L471.88,279.01 L472.51,279.81 L473.15,280.61 L473.80,281.42 L474.46,282.23 L475.13,283.03 L475.81,283.84 L476.50,284.64 L477.20,285.44 L477.91,286.24 L478.63,287.03 L479.36,287.82 L480.10,288.60 L480.85,289.38 L481.61,290.15 L482.38,290.91 L483.16,291.66 L483.95,292.40 L484.75,293.13 L485.56,293.84 L486.37,294.55 L487.20,295.24 L488.04,295.92 L488.88,296.58 L489.74,297.22 L490.61,297.85 L491.48,298.46 L492.36,299.05 L493.26,299.63 L494.16,300.18 L495.07,300.71 L496.00,301.22 L496.93,301.70 L497.87,302.16 L498.82,302.60 L499.78,303.01 L500.75,303.40 L501.72,303.75 L502.71,304.08 L503.71,304.38 L504.71,304.65 L505.72,304.89 L506.75,305.10 L507.78,305.28 L508.82,305.42 L509.87,305.53 L510.93,305.60 L511.99,305.64 L513.07,305.64 L514.16,305.60 L515.25,305.53 L516.35,305.41 L517.47,305.26 L518.59,305.06 L519.71,304.82 L520.85,304.54" fill="none" stroke="#0000ff" stroke-width="2.8" stroke-linejoin="round" stroke-linecap="round"/>
</svg>
</body></html>
